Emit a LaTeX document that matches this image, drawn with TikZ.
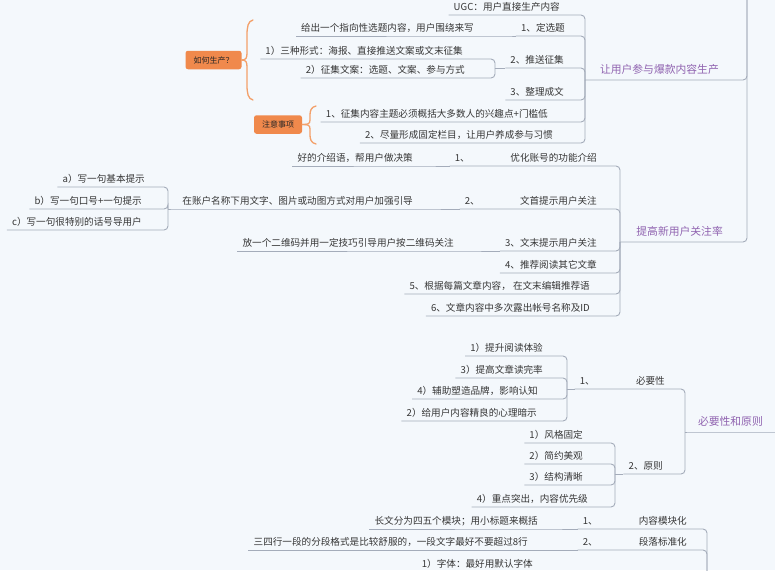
\documentclass[tikz,border=0pt]{standalone}
\usepackage{fontspec}
\setmainfont{Noto Sans CJK SC}
\usepackage{tikz}
\definecolor{bgc}{HTML}{F4F8FC}
\definecolor{lnc}{HTML}{A4ACBA}
\definecolor{txt}{HTML}{363636}
\definecolor{main}{HTML}{9063B0}
\definecolor{sumfill}{HTML}{F0894C}
\definecolor{sumline}{HTML}{F3A06A}
\newcommand{\spread}[3]{\makebox[#1]{#2\hfill #3}}
\tikzset{
  tp/.style={anchor=south east, font=\fontsize{9.6}{11}\selectfont, text=txt,
    inner xsep=5pt, inner ysep=0pt, text height=7pt, text depth=4pt},
  mb/.style={tp, font=\fontsize{10.8}{12}\selectfont, text=main,
    text height=8pt, text depth=6pt},
  sumbox/.style={fill=sumfill, rounded corners=2.5pt, font=\fontsize{8}{9}\selectfont,
    text=black!85, inner xsep=8pt, inner ysep=0pt, minimum height=18.5pt},
  ln/.style={draw=lnc, line width=0.9pt, rounded corners=4pt},
  brc/.style={draw=sumline, line width=1.3pt, line cap=round}
}

\begin{document}
\begin{tikzpicture}[x=1pt, y=-1pt]
  \useasboundingbox (0,0) rectangle (775,570);
  \fill[bgc] (0,0) rectangle (775,570);
  \clip (0,0) rectangle (775,570);
  \coordinate (rt) at (747,-20);
  \coordinate (rc) at (800,432);
  \coordinate (jd) at (707,600);

  % 让用户参与爆款内容生产
  \node[mb] (pa) at (724,80) {让用户参与爆款内容生产};
  \coordinate (ja) at (585,80);
  \node[tp] (ugc) at (565,15) {UGC：用户直接生产内容};
  \node[tp] (dx) at (570,36) {1、定选题};
  \node[tp] (ts) at (569,68) {2、推送征集};
  \node[tp] (zl) at (569,100) {3、整理成文};
  \node[tp] (zy1) at (553,122) {1、征集内容主题必须概括大多数人的兴趣点+门槛低};
  \node[tp] (zy2) at (558,143) {2、尽量形成固定栏目，让用户养成参与习惯};
  \node[tp] (gc) at (479,36) {给出一个指向性选题内容，用户围绕来写};
  \coordinate (jdx) at (505,36);
  \node[tp] (xs1) at (468,59) {1）三种形式：海报、直接推送文案或文末征集};
  \node[tp] (xs2) at (470,78) {2）征集文案：选题、文案、参与方式};
  \coordinate (jts) at (495,68);
  \draw[ln] (rt) |- (pa.south east) -- (pa.south west) -- (ja);
  \foreach \c in {ugc,dx,ts,zl,zy1,zy2}
    \draw[ln] (ja) |- (\c.south east) -- (\c.south west);
  \draw[ln] (dx.south west) -- (jdx) -- (gc.south east) -- (gc.south west);
  \draw[ln] (ts.south west) -- (jts);
  \foreach \c in {xs1,xs2}
    \draw[ln] (jts) |- (\c.south east) -- (\c.south west);

  % summaries
  \node[sumbox] (rs1) at (213.5,60) {如何生产？};
  \node[sumbox] (rs2) at (278,124.5) {注意事项};
  \draw[brc] (253,20) .. controls (248,21) and (247,27) .. (247,35) -- (247,53)
    .. controls (247,58) and (246,60) .. (rs1.east);
  \draw[brc] (253,100) .. controls (248,99) and (247,93) .. (247,85) -- (247,67)
    .. controls (247,62) and (246,60) .. (rs1.east);
  \draw[brc] (316,106) .. controls (311,107) and (310,111) .. (310,115) -- (310,120)
    .. controls (310,124) and (308,124.5) .. (rs2.east);
  \draw[brc] (316,144) .. controls (311,143) and (310,139) .. (310,135) -- (310,129)
    .. controls (310,125) and (308,124.5) .. (rs2.east);

  % 提高新用户关注率
  \node[mb] (pb) at (728,242) {提高新用户关注率};
  \coordinate (jb) at (620,242);
  \node[tp] (yh) at (602,166) {\spread{142pt}{1、}{优化账号的功能介绍}};
  \node[tp] (wsh) at (602,209) {\spread{132pt}{2、}{文首提示用户关注}};
  \node[tp] (wm) at (602,251) {3、文末提示用户关注};
  \node[tp] (tj) at (602,273) {4、推荐阅读其它文章};
  \node[tp] (gj) at (595,294) {5、根据每篇文章内容， 在文末编辑推荐语};
  \node[tp] (lc) at (595,316) {6、文章内容中多次露出帐号名称及ID};
  \node[tp] (hj) at (418,166) {好的介绍语，帮用户做决策};
  \node[tp] (zh) at (418,209) {在账户名称下用文字、图片或动图方式对用户加强引导};
  \node[tp] (ew) at (459,251) {放一个二维码并用一定技巧引导用户按二维码关注};
  \coordinate (jzh) at (168,209);
  \node[tp] (ya) at (150,187) {a）写一句基本提示};
  \node[tp] (yb) at (147,209) {b）写一句口号+一句提示};
  \node[tp] (yc) at (147,230) {c）写一句很特别的话号导用户};
  \draw[ln] (rt) |- (pb.south east) -- (pb.south west) -- (jb);
  \foreach \c in {yh,wsh,wm,tj,gj,lc}
    \draw[ln] (jb) |- (\c.south east) -- (\c.south west);
  \draw[ln] (yh.south west) -- (hj.south east) -- (hj.south west);
  \draw[ln] (wsh.south west) -- (zh.south east) -- (zh.south west) -- (jzh);
  \draw[ln] (wm.south west) -- (ew.south east) -- (ew.south west);
  \foreach \c in {ya,yb,yc}
    \draw[ln] (jzh) |- (\c.south east) -- (\c.south west);

  % 必要性和原则
  \node[mb] (pc) at (768,432) {必要性和原则};
  \coordinate (jc) at (685,432);
  \node[tp] (by) at (670,389) {\spread{85pt}{1、}{必要性}};
  \node[tp] (yz) at (668,474) {2、原则};
  \coordinate (jby) at (567,389);
  \node[tp] (ts1) at (548,356) {1）提升阅读体验};
  \node[tp] (ts3) at (548,378) {3）提高文章读完率};
  \node[tp] (fz) at (543,399) {4）辅助塑造品牌，影响认知};
  \node[tp] (gy) at (542,421) {2）给用户内容精良的心理暗示};
  \coordinate (jyz) at (615,474);
  \node[tp] (fg) at (588,443) {1）风格固定};
  \node[tp] (jy) at (588,464) {2）简约美观};
  \node[tp] (jg) at (588,485) {3）结构清晰};
  \node[tp] (zd) at (593,507) {4）重点突出，内容优先级};
  \draw[ln] (rc) -- (pc.south east) -- (pc.south west) -- (jc);
  \foreach \c in {by,yz}
    \draw[ln] (jc) |- (\c.south east) -- (\c.south west);
  \draw[ln] (by.south west) -- (jby);
  \foreach \c in {ts1,ts3,fz,gy}
    \draw[ln] (jby) |- (\c.south east) -- (\c.south west);
  \draw[ln] (yz.south west) -- (jyz);
  \foreach \c in {fg,jy,jg,zd}
    \draw[ln] (jyz) |- (\c.south east) -- (\c.south west);

  % 内容模块化 / 段落标准化
  \node[tp] (mk) at (692,529) {\spread{104pt}{1、}{内容模块化}};
  \node[tp] (dl) at (692,550) {\spread{104pt}{2、}{段落标准化}};
  \node[tp] (cw) at (543,529) {长文分为四五个模块；用小标题来概括};
  \node[tp] (ss) at (533,550) {三四行一段的分段格式是比较舒服的，一段文字最好不要超过8行};
  \node[tp] (zt) at (538,572) {1）字体：最好用默认字体};
  \foreach \c in {mk,dl}
    \draw[ln] (jd) |- (\c.south east) -- (\c.south west);
  \draw[ln] (mk.south west) -- (cw.south east) -- (cw.south west);
  \draw[ln] (dl.south west) -- (ss.south east) -- (ss.south west);
\end{tikzpicture}
\end{document}
